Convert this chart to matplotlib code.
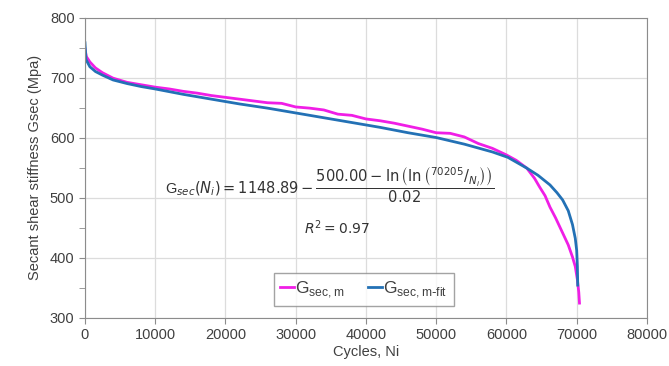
#!/usr/bin/env python3
import matplotlib
matplotlib.use("Agg")
import matplotlib.pyplot as plt
from matplotlib.ticker import MultipleLocator

cycles_m = [0, 200, 700, 1500, 2500, 4000, 6000, 8000, 10000, 12000, 14000,
            16000, 18000, 20000, 22000, 24000, 26000, 28000, 30000, 32000,
            34000, 36000, 38000, 40000, 42000, 44000, 46000, 48000, 50000,
            52000, 54000, 56000, 58000, 60000, 61400, 62900, 64000, 64700,
            65500, 66200, 67000, 68000, 68800, 69400, 69800, 70100, 70300,
            70400]
gsec_m = [748, 735, 726, 716, 708, 699, 692, 688, 684, 681, 677,
          674, 670, 667, 664, 661, 658, 657, 651, 649, 646,
          639, 637, 631, 628, 624, 619, 614, 608, 607, 601, 590, 582,
          571, 562, 549, 532, 518, 503, 484, 466, 441, 421, 401, 385,
          363, 342, 324]

# fitted curve
cycles_fit = [0, 150, 700, 1500, 2500, 4000, 6000, 8000, 10000, 14000,
              18000, 22000, 26000, 30000, 34000, 38000, 42000, 46000,
              50000, 54000, 58000, 60200, 62900, 64500, 66200, 67200,
              68000, 68800, 69400, 69800, 70000, 70100, 70150]
gsec_fit = [758, 730, 718, 710, 704, 696, 690, 685, 681, 672,
            664, 656, 649, 641, 633, 625, 617, 608,
            600, 589, 576, 567, 549, 537, 521, 508,
            496, 478, 455, 432, 412, 385, 354]

x_ticks = [0, 10000, 20000, 30000, 40000, 50000, 60000, 70000, 80000]
y_ticks = [300, 400, 500, 600, 700, 800]

plt.rcParams['font.family'] = ['Liberation Sans', 'DejaVu Sans']
txt = '#404040'

fig = plt.figure(figsize=(6.69, 3.66), dpi=100)
ax = fig.add_axes([0.127, 0.1325, 0.84, 0.8195])

ax.plot(cycles_m, gsec_m, color='#f01ee6', lw=2.0, label=r'G$_{\mathregular{sec,m}}$')
ax.plot(cycles_fit, gsec_fit, color='#2371b5', lw=2.0, label=r'G$_{\mathregular{sec,m\text{-}fit}}$')

ax.set_xlim(0, 80000)
ax.set_ylim(300, 800)
ax.set_xticks(x_ticks)
ax.set_yticks(y_ticks)
ax.yaxis.set_minor_locator(MultipleLocator(50))
ax.grid(True, which='major', color='#dcdcdc', lw=0.9)
ax.set_axisbelow(True)
for s in ax.spines.values():
    s.set_color('#8c8c8c')
ax.tick_params(which='both', direction='out', length=4, color='#8c8c8c',
               labelsize=10.5, labelcolor=txt)

ax.set_xlabel('Cycles, Ni', fontsize=10.5, color=txt, labelpad=2)
ax.set_ylabel('Secant shear stiffness Gsec (Mpa)', fontsize=10.5, color=txt, labelpad=6)

eq = (r'$\mathregular{G}_{sec}(N_i) = 1148.89 - '
      r'\dfrac{500.00 - \ln\left(\ln\left(^{70205}/_{N_i}\right)\right)}{0.02}$')
ax.text(0.436, 0.44, eq, transform=ax.transAxes, ha='center', va='center',
        fontsize=10.5, color='#333333')
ax.text(0.448, 0.30, r'$R^2 = 0.97$', transform=ax.transAxes, ha='center',
        va='center', fontsize=10, color='#333333')

leg = ax.legend(loc='center', bbox_to_anchor=(0.496, 0.093), ncol=2,
                fontsize=12.5, handlelength=0.8, handletextpad=0.1,
                columnspacing=1.3, frameon=True, fancybox=False,
                borderpad=0.35)
leg.get_frame().set_edgecolor('#8c8c8c')
for t in leg.get_texts():
    t.set_color(txt)

fig.savefig('out.png', dpi=100)
